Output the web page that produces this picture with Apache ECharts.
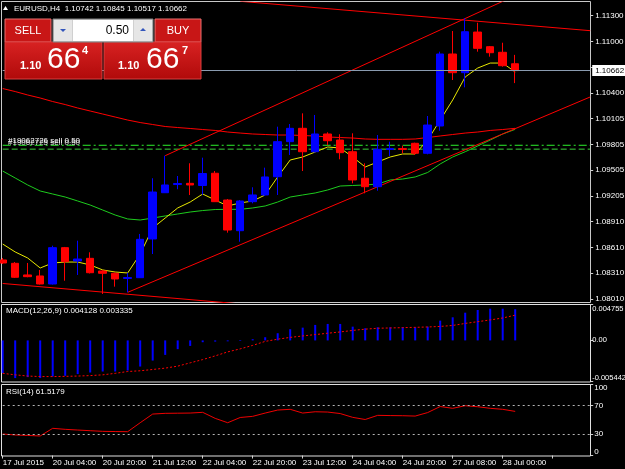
<!DOCTYPE html>
<html>
<head>
<meta charset="utf-8">
<script src="https://cdn.jsdelivr.net/npm/echarts@6/dist/echarts.min.js"></script>
<style>
html, body { margin: 0; padding: 0; background: #000; }
#chart { width: 625px; height: 469px; }
</style>
</head>
<body>
<div id="chart"></div>
<script>
// H4 bars, 17 Jul 2015 -> 28 Jul 2015
var times = ['17 Jul 16:00', '17 Jul 20:00', '19 Jul 20:00', '20 Jul 00:00', '20 Jul 04:00', '20 Jul 08:00',
	'20 Jul 12:00', '20 Jul 16:00', '20 Jul 20:00', '21 Jul 00:00', '21 Jul 04:00', '21 Jul 08:00',
	'21 Jul 12:00', '21 Jul 16:00', '21 Jul 20:00', '22 Jul 00:00', '22 Jul 04:00', '22 Jul 08:00',
	'22 Jul 12:00', '22 Jul 16:00', '22 Jul 20:00', '23 Jul 00:00', '23 Jul 04:00', '23 Jul 08:00',
	'23 Jul 12:00', '23 Jul 16:00', '23 Jul 20:00', '24 Jul 00:00', '24 Jul 04:00', '24 Jul 08:00',
	'24 Jul 12:00', '24 Jul 16:00', '24 Jul 20:00', '26 Jul 20:00', '27 Jul 00:00', '27 Jul 04:00',
	'27 Jul 08:00', '27 Jul 12:00', '27 Jul 16:00', '27 Jul 20:00', '28 Jul 00:00', '28 Jul 04:00'];
var shiftSlots = ['', '', '', '', '', '']; // empty space right of last bar

// [open, close, low, high]
var ohlc = [
	[1.08463, 1.08428, 1.08416, 1.08486], [1.08424, 1.08262, 1.08254, 1.08439], [1.08289, 1.08269, 1.08262, 1.08428],
	[1.08277, 1.08184, 1.08178, 1.08347], [1.08184, 1.08606, 1.08178, 1.08629], [1.08606, 1.08443, 1.08222, 1.08614],
	[1.08451, 1.08474, 1.08289, 1.08687], [1.08482, 1.08315, 1.08306, 1.08552], [1.08335, 1.08308, 1.08068, 1.08347],
	[1.08308, 1.08242, 1.08153, 1.08317], [1.08248, 1.08259, 1.08087, 1.08315], [1.08257, 1.08703, 1.08254, 1.08765],
	[1.08707, 1.09252, 1.08532, 1.09412], [1.09244, 1.09334, 1.09241, 1.09674], [1.09339, 1.09351, 1.09284, 1.09438],
	[1.09353, 1.09334, 1.09217, 1.09586], [1.09328, 1.09467, 1.09219, 1.09651], [1.09470, 1.09140, 1.09136, 1.09496],
	[1.09159, 1.08811, 1.08780, 1.09171], [1.08803, 1.09148, 1.08675, 1.09159], [1.09140, 1.09218, 1.09121, 1.09307],
	[1.09218, 1.09427, 1.09206, 1.09535], [1.09430, 1.09837, 1.09218, 1.10011], [1.09837, 1.09992, 1.09682, 1.10042],
	[1.09992, 1.09720, 1.09496, 1.10166], [1.09720, 1.09926, 1.09711, 1.10147], [1.09926, 1.09848, 1.09798, 1.09946],
	[1.09856, 1.09709, 1.09632, 1.09923], [1.09720, 1.09392, 1.09353, 1.09934], [1.09412, 1.09314, 1.09237, 1.09586],
	[1.09314, 1.09748, 1.09267, 1.09914], [1.09746, 1.09757, 1.09670, 1.09837], [1.09757, 1.09746, 1.09702, 1.09790],
	[1.09818, 1.09702, 1.09682, 1.09825], [1.09702, 1.10030, 1.09690, 1.10135], [1.10019, 1.10855, 1.09964, 1.10882],
	[1.10855, 1.10638, 1.10553, 1.11122], [1.10638, 1.11114, 1.10468, 1.11270], [1.11110, 1.10921, 1.10882, 1.11218],
	[1.10940, 1.10870, 1.10824, 1.10948], [1.10875, 1.10719, 1.10708, 1.10986], [1.10742, 1.10662, 1.10517, 1.10845]
];

var maFast = [1.08648, 1.08556, 1.08486, 1.08370, 1.08428, 1.08439, 1.08439, 1.08405, 1.08347, 1.08323, 1.08312,
	1.08532, 1.08834, 1.08950, 1.09067, 1.09136, 1.09229, 1.09159, 1.09090, 1.09125, 1.09148, 1.09218, 1.09427,
	1.09624, 1.09659, 1.09717, 1.09775, 1.09763, 1.09659, 1.09543, 1.09601, 1.09659, 1.09694, 1.09694, 1.09856,
	1.10088, 1.10321, 1.10588, 1.10692, 1.10750, 1.10750, 1.10646];
var maMid = [1.09496, 1.09415, 1.09334, 1.09264, 1.09229, 1.09194, 1.09148, 1.09101, 1.09043, 1.08985, 1.08939,
	1.08927, 1.08950, 1.08974, 1.08997, 1.09020, 1.09037, 1.09049, 1.09051, 1.09051, 1.09067, 1.09090, 1.09136,
	1.09194, 1.09218, 1.09241, 1.09276, 1.09322, 1.09328, 1.09334, 1.09345, 1.09392, 1.09403, 1.09427, 1.09479,
	1.09578, 1.09659, 1.09720, 1.09787, 1.09856, 1.09926, 1.09980];
var maSlow = [1.10454, 1.10419, 1.10379, 1.10344, 1.10303, 1.10268, 1.10228, 1.10193, 1.10158, 1.10123, 1.10088,
	1.10059, 1.10036, 1.10013, 1.10001, 1.09990, 1.09978, 1.09967, 1.09949, 1.09937, 1.09926, 1.09920, 1.09914,
	1.09914, 1.09908, 1.09903, 1.09891, 1.09885, 1.09879, 1.09868, 1.09864, 1.09864, 1.09864, 1.09868, 1.09885,
	1.09903, 1.09920, 1.09937, 1.09949, 1.09967, 1.09978, 1.09992];

// trend lines, [bar index, price]
var channelLow = [[10, 1.08087], [47, 1.10356]];
var channelHigh = [[13, 1.09674], [41, 1.11533]];
var fallTop = [[19, 1.11467], [47, 1.11126]];
var fallBottom = [[0, 1.08190], [20, 1.07940]];

var bidPrice = 1.10662;
var orderEntry = 1.09795;
var orderStop = 1.09750;

var macdHist = [-0.00433, -0.00499, -0.00486, -0.00499, -0.00478, -0.00469, -0.00446, -0.00425, -0.00412, -0.00412,
	-0.00399, -0.00346, -0.00267, -0.00192, -0.00116, -0.00073, -0.00024, -0.00016, -0.00012, -0.00008, 0.00016,
	0.00042, 0.00095, 0.00148, 0.00169, 0.00205, 0.00218, 0.00218, 0.00182, 0.00161, 0.00174, 0.00174, 0.00174,
	0.00174, 0.00182, 0.00262, 0.00306, 0.00367, 0.00403, 0.00420, 0.00420, 0.00413];
var macdSignal = [-0.00436, -0.00456, -0.00472, -0.00479, -0.00479, -0.00476, -0.00472, -0.00466, -0.00456, -0.00436,
	-0.00412, -0.00402, -0.00385, -0.00367, -0.00341, -0.00297, -0.00254, -0.00205, -0.00152, -0.00112, -0.00066,
	-0.00013, 0.00016, 0.00040, 0.00059, 0.00077, 0.00095, 0.00112, 0.00132, 0.00149, 0.00161, 0.00165, 0.00169,
	0.00173, 0.00178, 0.00185, 0.00198, 0.00225, 0.00248, 0.00271, 0.00297, 0.00334];
var rsi = [30, 28.6, 28, 27.2, 37.9, 36.5, 35.5, 34.6, 33.7, 33.4, 33.2, 45.7, 57.8, 58.8, 59, 59.2, 60.2, 51.8, 45.7,
	53, 54.6, 59.2, 63.4, 64.4, 59.2, 61, 60.6, 58.5, 53.2, 50.2, 56, 55.7, 55.5, 55, 59.9, 68.3, 65.8, 69.4, 68, 65.8,
	64.4, 61.5];

var priceTicks = [1.08010, 1.08310, 1.08610, 1.08910, 1.09205, 1.09505, 1.09805, 1.10105, 1.10400, 1.10700, 1.11000, 1.11300];
var macdTicks = [-0.005442, 0, 0.004755];
var rsiTicks = [0, 30, 70, 100];
var rsiLevels = [70, 30];

var FONT = 'Liberation Sans';
var categories = times.concat(shiftSlots);
var lastSlot = categories.length - 1;

function initChart() {
	var myChart = echarts.init(document.getElementById('chart'));

	function xAx(grid, showLabels) {
		return {
			type: 'category',
			gridIndex: grid,
			data: categories,
			boundaryGap: false,
			axisLine: { show: false },
			axisTick: { show: showLabels, interval: 3, length: 3, inside: false, lineStyle: { color: '#d0d0d0' } },
			axisLabel: {
				show: showLabels,
				interval: 3,
				align: 'left',
				margin: 3,
				color: '#fff',
				fontSize: 8,
				fontFamily: FONT,
				formatter: function(v, i) { return i === 0 ? '17 Jul 2015' : v; }
			},
			splitLine: { show: false }
		};
	}

	function yAx(grid, min, max, ticks, fmt, margin, size) {
		return {
			type: 'value',
			gridIndex: grid,
			position: 'right',
			min: min,
			max: max,
			axisLine: { show: false },
			axisTick: { show: true, length: 3, customValues: ticks, lineStyle: { color: '#d0d0d0' } },
			axisLabel: {
				customValues: ticks,
				formatter: fmt,
				color: '#fff',
				fontSize: size || 8,
				fontFamily: FONT,
				margin: margin,
				verticalAlignMaxLabel: 'top',
				verticalAlignMinLabel: 'bottom'
			},
			splitLine: { show: false }
		};
	}

	var mainY = yAx(0, 1.07969, 1.11459, priceTicks, function(v) { return v.toFixed(5); }, 5);
	mainY.axisLabel.verticalAlignMaxLabel = null;
	mainY.axisLabel.verticalAlignMinLabel = null;

	function trend(data, color, type) {
		return {
			type: 'line', xAxisIndex: 0, yAxisIndex: 0, data: data, clip: true,
			symbol: 'none', silent: true,
			lineStyle: { color: color || '#ff0000', width: 1, type: type || 'solid' }
		};
	}

	function ma(data, color) {
		return {
			type: 'line', xAxisIndex: 0, yAxisIndex: 0, data: data,
			symbol: 'none', silent: true,
			lineStyle: { color: color, width: 1 }
		};
	}

	// bid line hangs on the slow MA series
	var slow = ma(maSlow, '#ff0000');
	slow.markLine = {
		silent: true,
		symbol: 'none',
		precision: 5,
		animation: false,
		lineStyle: { color: '#8a9bb0', type: 'solid', width: 1 },
		label: {
			show: true, position: 'end', distance: 2,
			formatter: bidPrice.toFixed(5),
			color: '#000', backgroundColor: '#fff',
			padding: [2, 4, 1, 3], fontSize: 8, fontFamily: FONT
		},
		data: [{ yAxis: bidPrice }]
	};

	var option = {
		backgroundColor: '#000',
		animation: false,
		grid: [
			{ left: 2.7, width: 587.5, top: 2, height: 300.5, outerBoundsMode: 'none', containLabel: false },
			{ left: 2.7, width: 587.5, top: 304.5, height: 77, outerBoundsMode: 'none', containLabel: false },
			{ left: 2.7, width: 587.5, top: 383.8, height: 71.7, outerBoundsMode: 'none', containLabel: false }
		],
		xAxis: [xAx(0, false), xAx(1, false), xAx(2, true)],
		yAxis: [
			mainY,
			yAx(1, -0.005442, 0.004755, macdTicks, function(v) { return v === 0 ? '0.00' : v.toFixed(6); }, 2, 7.5),
			yAx(2, 0, 100, rsiTicks, function(v) { return String(v); }, 4)
		],
		series: [
			trend([[0, orderEntry], [lastSlot, orderEntry]], '#2cf02c', [8, 3, 2, 3]),
			trend([[0, orderStop], [lastSlot, orderStop]], '#3ccf3c', [6, 3]),
			slow,
			ma(maMid, '#1ecb1e'),
			ma(maFast, '#e8e800'),
			trend(channelLow),
			trend(channelHigh),
			trend(fallTop),
			trend(fallBottom),
			{
				type: 'candlestick',
				xAxisIndex: 0,
				yAxisIndex: 0,
				data: ohlc,
				barWidth: 8,
				clip: false,
				silent: true,
				z: 3,
				itemStyle: {
					color: '#0000ff',
					color0: '#ff0000',
					borderColor: '#0000ff',
					borderColor0: '#ff0000',
					borderWidth: 1
				}
			},
			{
				type: 'bar',
				xAxisIndex: 1,
				yAxisIndex: 1,
				data: macdHist,
				barWidth: 2,
				silent: true,
				itemStyle: { color: '#0000ff' }
			},
			{
				type: 'line',
				xAxisIndex: 1,
				yAxisIndex: 1,
				data: macdSignal,
				symbol: 'none',
				silent: true,
				lineStyle: { color: '#ff0000', width: 1, type: [2, 2] }
			},
			{
				type: 'line',
				xAxisIndex: 2,
				yAxisIndex: 2,
				data: rsi,
				symbol: 'none',
				silent: true,
				lineStyle: { color: '#ee0000', width: 1 },
				markLine: {
					silent: true,
					symbol: 'none',
					label: { show: false },
					lineStyle: { color: '#b4b4b4', type: [2, 3], width: 1 },
					data: rsiLevels.map(function(l) { return { yAxis: l }; })
				}
			}
		],
		graphic: [
			// panel frames
			{ type: 'rect', silent: true, z: 1, shape: { x: 1.5, y: 1.5, width: 589, height: 301 }, style: { fill: null, stroke: '#c8c8c8', lineWidth: 1 } },
			{ type: 'rect', silent: true, z: 1, shape: { x: 1.5, y: 304.5, width: 589, height: 77.5 }, style: { fill: null, stroke: '#e0e0e0', lineWidth: 1 } },
			{ type: 'rect', silent: true, z: 1, shape: { x: 1.5, y: 384.5, width: 589, height: 71.5 }, style: { fill: null, stroke: '#e0e0e0', lineWidth: 1 } },
			// header
			{ type: 'polygon', silent: true, z: 60, shape: { points: [[3, 10], [5.5, 6], [8, 10]] }, style: { fill: '#fff' } },
			{ type: 'text', silent: true, z: 60, style: { x: 14, y: 8.5, text: 'EURUSD,H4  1.10742 1.10845 1.10517 1.10662', fill: '#fff', font: '8px "Liberation Sans"', verticalAlign: 'middle' } },
			// one click trading panel
			{ type: 'rect', silent: true, z: 60, shape: { x: 5, y: 19, width: 46, height: 23 }, style: { fill: '#c81616', stroke: '#e87070', lineWidth: 1 } },
			{ type: 'rect', silent: true, z: 60, shape: { x: 5, y: 42, width: 97, height: 37 },
				style: { fill: new echarts.graphic.LinearGradient(0, 0, 0, 1, [{ offset: 0, color: '#d82222' }, { offset: 1, color: '#b00a0a' }]), stroke: '#d84040', lineWidth: 1 } },
			{ type: 'rect', silent: true, z: 60, shape: { x: 155, y: 19, width: 46, height: 23 }, style: { fill: '#c81616', stroke: '#e87070', lineWidth: 1 } },
			{ type: 'rect', silent: true, z: 60, shape: { x: 104, y: 42, width: 97, height: 37 },
				style: { fill: new echarts.graphic.LinearGradient(0, 0, 0, 1, [{ offset: 0, color: '#d82222' }, { offset: 1, color: '#b00a0a' }]), stroke: '#d84040', lineWidth: 1 } },
			{ type: 'rect', silent: true, z: 60, shape: { x: 53, y: 19, width: 100, height: 23 }, style: { fill: '#d0d0d0', stroke: '#808080', lineWidth: 1 } },
			{ type: 'rect', silent: true, z: 61, shape: { x: 54, y: 20, width: 18, height: 21 }, style: { fill: '#e6e6e6' } },
			{ type: 'rect', silent: true, z: 61, shape: { x: 73, y: 20, width: 60, height: 21 }, style: { fill: '#fff' } },
			{ type: 'rect', silent: true, z: 61, shape: { x: 134, y: 20, width: 18, height: 21 }, style: { fill: '#e6e6e6' } },
			{ type: 'polygon', silent: true, z: 62, shape: { points: [[60, 29], [66, 29], [63, 32]] }, style: { fill: '#3355bb' } },
			{ type: 'polygon', silent: true, z: 62, shape: { points: [[140, 31], [146, 31], [143, 28]] }, style: { fill: '#3355bb' } },
			{ type: 'text', silent: true, z: 62, style: { x: 129, y: 30.5, text: '0.50', fill: '#000', font: '12px "Liberation Sans"', align: 'right', verticalAlign: 'middle' } },
			{ type: 'text', silent: true, z: 62, style: { x: 28, y: 30.5, text: 'SELL', fill: '#fff', font: '11px "Liberation Sans"', align: 'center', verticalAlign: 'middle' } },
			{ type: 'text', silent: true, z: 62, style: { x: 178, y: 30.5, text: 'BUY', fill: '#fff', font: '11px "Liberation Sans"', align: 'center', verticalAlign: 'middle' } },
			{ type: 'text', silent: true, z: 62, style: { x: 20, y: 66, text: '1.10', fill: '#fff', font: 'bold 11px "Liberation Sans"', verticalAlign: 'middle' } },
			{ type: 'text', silent: true, z: 62, style: { x: 47, y: 60, text: '66', fill: '#fff', font: '30px "Liberation Sans"', verticalAlign: 'middle' } },
			{ type: 'text', silent: true, z: 62, style: { x: 82, y: 51, text: '4', fill: '#fff', font: 'bold 11px "Liberation Sans"', verticalAlign: 'middle' } },
			{ type: 'text', silent: true, z: 62, style: { x: 118, y: 66, text: '1.10', fill: '#fff', font: 'bold 11px "Liberation Sans"', verticalAlign: 'middle' } },
			{ type: 'text', silent: true, z: 62, style: { x: 146, y: 60, text: '66', fill: '#fff', font: '30px "Liberation Sans"', verticalAlign: 'middle' } },
			{ type: 'text', silent: true, z: 62, style: { x: 182, y: 51, text: '7', fill: '#fff', font: 'bold 11px "Liberation Sans"', verticalAlign: 'middle' } },
			// order labels (two overlapping)
			{ type: 'text', silent: true, z: 40, style: { x: 8, y: 141, text: '#19062726 sell 0.50', fill: '#fff', font: '8px "Liberation Sans"', verticalAlign: 'middle' } },
			{ type: 'text', silent: true, z: 40, style: { x: 8, y: 143, text: '#19062725 sell 0.50', fill: '#fff', font: '8px "Liberation Sans"', verticalAlign: 'middle', opacity: 0.8 } },
			// indicator titles
			{ type: 'text', silent: true, z: 40, style: { x: 6, y: 311, text: 'MACD(12,26,9) 0.004128 0.003335', fill: '#fff', font: '8px "Liberation Sans"', verticalAlign: 'middle' } },
			{ type: 'text', silent: true, z: 40, style: { x: 6, y: 391.5, text: 'RSI(14) 61.5179', fill: '#fff', font: '8px "Liberation Sans"', verticalAlign: 'middle' } }
		]
	};

	myChart.setOption(option, true);
}

onload = function() {
	initChart();
}
</script>
</body>
</html>
